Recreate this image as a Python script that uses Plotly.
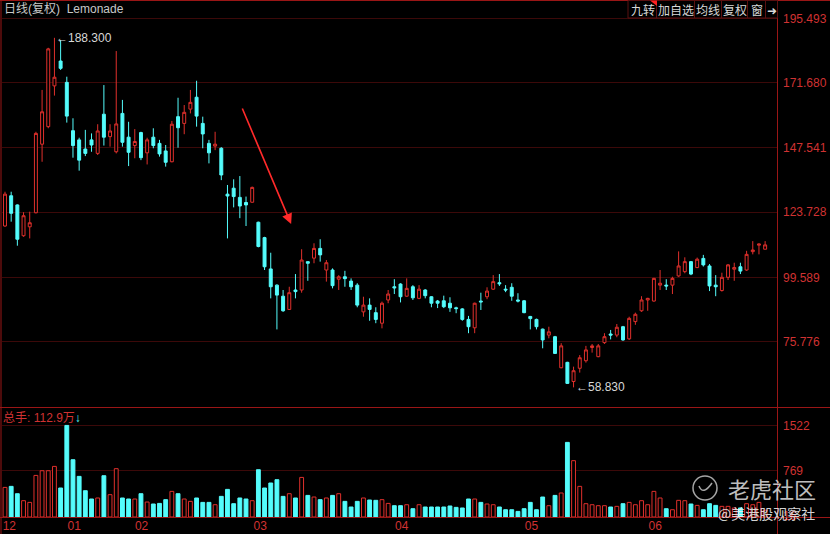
import plotly.graph_objects as go

# ---------------- data ----------------
opens = [118.6,129.8,126.4,115.0,118.3,123.5,148.9,155.4,170.5,179.7,171.8,153.9,150.5,147.1,150.5,145.5,160.0,151.7,146.1,160.3,
         151.5,148.4,153.2,145.7,151.5,149.2,146.4,142.4,159.1,156.6,161.9,166.3,156.6,149.2,148.2,147.4,130.4,132.6,129.2,127.3,
         127.4,120.0,114.3,102.7,96.7,92.6,87.7,94.9,94.9,105.4,106.7,110.3,102.3,102.3,98.9,99.8,98.2,96.7,86.8,89.3,
         86.5,82.6,91.2,96.1,97.1,92.6,96.1,91.8,94.9,92.4,90.8,90.9,90.0,88.3,87.9,84.0,80.9,90.8,92.4,95.2,
         97.6,95.2,95.9,91.2,90.9,85.1,84.0,80.4,78.2,77.6,66.1,68.1,61.0,65.9,68.7,73.6,70.2,75.4,78.6,78.2,
         81.3,76.8,83.2,87.2,91.2,90.8,96.7,96.7,96.7,100.1,101.7,105.4,103.2,106.6,103.8,96.7,94.7,99.6,102.6,103.5,
         102.3,109.1,111.5,110.0]
highs = [131.3,131.3,126.6,123.7,123.9,153.5,169.0,184.6,188.3,187.5,173.9,158.5,151.3,154.2,152.9,156.3,170.8,156.3,183.4,165.3,
         157.2,154.5,153.5,151.3,154.8,150.5,148.6,157.5,166.1,163.4,169.0,172.4,159.1,150.5,153.5,147.8,133.8,135.9,137.1,129.5,
         133.2,120.2,114.6,108.7,97.0,94.9,96.1,100.8,110.0,105.4,112.2,113.7,106.0,102.9,100.4,102.0,99.2,97.4,92.4,91.8,
         88.5,90.6,94.9,98.9,97.4,99.2,96.7,96.7,95.2,92.6,91.2,92.8,92.2,88.7,88.2,85.3,90.2,93.9,95.9,100.4,
         100.8,96.7,97.4,93.7,91.2,85.3,84.3,80.6,81.3,77.9,75.2,68.3,66.5,70.8,74.2,74.9,74.9,78.9,80.1,82.3,
         81.6,85.0,86.5,92.6,92.0,99.4,102.3,98.9,99.8,109.2,107.0,105.6,106.9,107.9,104.5,100.4,101.3,104.5,105.0,105.0,
         109.4,113.0,112.1,113.0]
lows = [118.3,120.2,111.3,114.6,114.0,123.3,142.4,154.8,166.9,176.4,156.9,143.9,139.1,144.5,146.1,144.9,148.4,148.0,145.5,148.0,
        140.8,143.7,143.0,141.4,147.4,144.3,140.6,142.2,147.6,152.6,160.3,155.4,147.4,141.8,146.7,135.6,114.0,125.5,121.5,118.6,
        127.3,110.7,102.3,91.8,80.3,86.8,87.5,91.8,93.9,98.3,104.8,105.4,98.0,95.5,94.9,96.1,94.9,88.5,85.0,83.5,
        82.6,80.7,90.0,93.4,90.3,92.4,91.2,91.5,91.8,88.5,88.2,88.2,86.8,86.3,83.5,78.9,78.9,87.5,91.5,94.9,
        96.4,94.1,90.9,90.3,86.3,80.3,80.3,73.3,77.0,71.2,65.9,60.1,58.83,64.3,68.0,71.7,70.0,74.9,76.6,77.4,
        76.1,76.4,82.0,86.8,87.2,90.6,94.9,94.9,93.4,99.8,101.1,100.4,103.0,103.6,94.5,92.6,94.3,98.6,98.3,100.8,
        102.0,108.1,108.1,110.0]
closes = [130.4,123.3,113.7,122.4,119.8,152.9,160.9,184.2,173.7,177.0,159.3,148.4,143.0,145.5,148.6,153.8,151.5,153.8,156.4,149.6,
          145.9,149.9,143.9,150.5,148.4,145.3,142.2,156.3,155.0,160.7,164.4,159.3,152.7,145.7,148.9,137.5,129.7,129.5,126.0,126.4,
          132.9,111.0,103.5,96.1,93.0,87.2,93.9,94.3,106.0,104.8,110.3,107.9,105.0,96.5,99.8,99.1,96.1,89.3,89.3,87.7,
          84.0,90.0,93.4,95.7,92.4,95.5,92.0,95.2,92.8,90.0,90.0,88.7,88.3,88.0,84.0,81.3,90.0,90.5,94.5,98.0,
          97.2,94.9,92.6,90.8,86.5,84.3,81.3,76.4,79.4,71.4,74.2,60.3,65.0,69.8,72.7,74.2,74.2,77.6,78.2,81.1,
          76.4,84.4,85.9,91.2,91.8,99.2,97.4,96.4,99.2,103.8,105.4,100.8,106.3,104.2,96.4,96.1,99.6,104.2,103.2,101.9,
          108.1,109.7,111.9,111.6]
# volume, in 万 shares
volumes = [492,509,387,271,243,691,769,769,841,482,1522,952,675,437,299,316,686,371,803,316,
           299,299,387,249,216,226,288,426,387,299,260,316,243,243,204,343,459,221,316,299,
           271,786,482,565,620,343,387,316,658,359,332,288,316,359,387,260,166,260,316,282,
           277,288,226,188,188,204,138,204,166,166,166,166,183,160,150,299,299,243,216,204,
           166,121,121,93,138,243,121,332,188,359,399,1240,936,509,221,204,188,188,166,177,
           221,243,204,271,204,426,316,138,121,277,271,216,193,121,221,193,177,177,150,150,
           221,204,243,113]

month_labels = ["12", "01", "02", "03", "04", "05", "06"]
month_pos = [1.7, 12.2, 23.1, 42.3, 65.2, 86.2, 106.2]

price_ticks = [195.493, 171.680, 147.541, 123.728, 99.589, 75.776]
vol_ticks = [1522, 769, 16]

title_text = "日线(复权)  Lemonade"
vol_title = "总手: 112.9万"
buttons = ["九转", "加自选", "均线", "复权", "窗", "➜"]

# ---------------- styling ----------------
RED = "#e0302c"
CYAN = "#54fcfc"
GRID = "#3c0909"
FRAME = "#9a1616"
LABEL = "#d03232"
FONT = "Liberation Sans, Arial, Noto Sans CJK SC"

W, H = 830, 534
ML, MR, MT, MB = 2, 53, 0, 17
PW, PH = W - ML - MR, H - MT - MB


def pxx(x):
    return (x - ML) / PW


def pxy(y):
    return (H - MB - y) / PH


idx = list(range(1, len(opens) + 1))
up = [c >= o for o, c in zip(opens, closes)]

fig = go.Figure()
fig.add_trace(go.Candlestick(
    x=idx, open=opens, high=highs, low=lows, close=closes,
    increasing=dict(line=dict(color=RED, width=1), fillcolor="#000000"),
    decreasing=dict(line=dict(color=CYAN, width=1), fillcolor=CYAN),
    whiskerwidth=0, xaxis="x", yaxis="y", hoverinfo="skip"))

fig.add_trace(go.Bar(
    x=idx, y=volumes, width=0.62,
    marker=dict(color=["#000000" if u else CYAN for u in up],
                line=dict(color=[RED if u else CYAN for u in up], width=1)),
    xaxis="x2", yaxis="y2", hoverinfo="skip"))

xr = [1 - 3 / 6.18, 1 - 3 / 6.18 + PW / 6.18]

fig.update_layout(
    width=W, height=H, margin=dict(l=ML, r=MR, t=MT, b=MB),
    paper_bgcolor="#000000", plot_bgcolor="#000000", showlegend=False,
    boxgap=0.32,
    font=dict(family=FONT, color=LABEL, size=12),
    xaxis=dict(domain=[0, 1], range=xr, anchor="y", showticklabels=False, showgrid=False,
               zeroline=False, showline=False, rangeslider=dict(visible=False), fixedrange=True),
    xaxis2=dict(domain=[0, 1], range=xr, anchor="y2", showgrid=False, zeroline=False,
                showline=False, tickvals=month_pos, ticktext=month_labels, ticks="",
                tickfont=dict(color=LABEL, size=12, family=FONT), ticklabelstandoff=0),
    yaxis=dict(domain=[pxy(407), 1], range=[51.56, 202.31], side="right",
               tickvals=price_ticks, ticktext=[f"{v:.3f}" for v in price_ticks],
               showgrid=True, gridcolor=GRID, gridwidth=1, zeroline=False, showline=False,
               ticks="", ticklabelstandoff=5, tickfont=dict(color=LABEL, size=12, family=FONT)),
    yaxis2=dict(domain=[0, pxy(410)], range=[0, (H - MB - 410) * 16.62], side="right",
                tickvals=vol_ticks, ticktext=[str(v) for v in vol_ticks],
                showgrid=True, gridcolor=GRID, gridwidth=1, zeroline=False, showline=False,
                ticks="", ticklabelstandoff=5, tickfont=dict(color=LABEL, size=12, family=FONT)),
)

shapes = []
# frame lines
for yy in [0.5, 407.5, 517.5]:
    shapes.append(dict(type="line", xref="paper", yref="paper", x0=pxx(0), x1=pxx(W),
                       y0=pxy(yy), y1=pxy(yy), line=dict(color=FRAME, width=1)))
for xx in [1, 777.5]:
    shapes.append(dict(type="line", xref="paper", yref="paper", x0=pxx(xx), x1=pxx(xx),
                       y0=pxy(0), y1=pxy(H), line=dict(color=FRAME, width=1)))
# button bar
shapes.append(dict(type="rect", xref="paper", yref="paper", x0=pxx(628), x1=pxx(777.5),
                   y0=pxy(0.5), y1=pxy(18), line=dict(color="#5a1010", width=1)))
for xx in [656.5, 694.5, 721.5, 747.5, 765.5]:
    shapes.append(dict(type="line", xref="paper", yref="paper", x0=pxx(xx), x1=pxx(xx),
                       y0=pxy(0.5), y1=pxy(18), line=dict(color="#5a1010", width=1)))
shapes.append(dict(type="path", xref="paper", yref="paper",
                   path=f"M {pxx(650)} {pxy(0.5)} L {pxx(657)} {pxy(0.5)} L {pxx(657)} {pxy(6)} Z",
                   fillcolor="#ff2020", line=dict(width=0)))
# watermark logo circle
shapes.append(dict(type="circle", xref="paper", yref="paper", x0=pxx(693), x1=pxx(717),
                   y0=pxy(476), y1=pxy(500), line=dict(color="rgba(220,220,220,0.75)", width=1.5)))
shapes.append(dict(type="path", xref="paper", yref="paper",
                   path=f"M {pxx(699)} {pxy(486)} Q {pxx(703)} {pxy(496)} {pxx(712)} {pxy(483)}",
                   line=dict(color="rgba(220,220,220,0.75)", width=1.5)))
fig.update_layout(shapes=shapes)

ann = []
ann.append(dict(xref="paper", yref="paper", x=pxx(2), y=pxy(9), xanchor="left", yanchor="middle",
                text=title_text, showarrow=False, font=dict(color="#c8c8c8", size=12, family=FONT)))
ann.append(dict(xref="paper", yref="paper", x=pxx(1), y=pxy(418), xanchor="left", yanchor="middle",
                text=vol_title + f"<span style='color:{CYAN}'>↓</span>", showarrow=False,
                font=dict(color=LABEL, size=12, family=FONT)))
btn_cx = [643, 675.5, 708, 734.5, 756.5, 771.5]
for t, cx in zip(buttons, btn_cx):
    ann.append(dict(xref="paper", yref="paper", x=pxx(cx), y=pxy(9.5), xanchor="center", yanchor="middle",
                    text=t, showarrow=False, font=dict(color="#d8d8d8", size=12, family="Noto Sans CJK SC, DejaVu Sans")))
# high / low markers
hi_i = max(range(len(highs)), key=lambda k: highs[k])
lo_i = min(range(len(lows)), key=lambda k: lows[k])
ann.append(dict(xref="x", yref="y", x=idx[hi_i], y=highs[hi_i], xanchor="left", yanchor="middle",
                text=f"←{highs[hi_i]:.3f}", showarrow=False, font=dict(color="#d8d8d8", size=12, family=FONT)))
ann.append(dict(xref="x", yref="y", x=idx[lo_i], y=lows[lo_i], xanchor="left", yanchor="middle",
                text=f"←{lows[lo_i]:.3f}", showarrow=False, font=dict(color="#d8d8d8", size=12, family=FONT)))
# hand-drawn red arrow
ann.append(dict(xref="x", yref="y", x=47.3, y=119.3, axref="x", ayref="y", ax=39.3, ay=162.7,
                showarrow=True, arrowhead=2, arrowsize=1.3, arrowwidth=1.6, arrowcolor="#ff2a2a",
                text="", standoff=0))
# watermark
ann.append(dict(xref="paper", yref="paper", x=pxx(726), y=pxy(488), xanchor="left", yanchor="middle",
                text="老虎社区", showarrow=False,
                font=dict(color="rgba(225,225,225,0.85)", size=22, family="Noto Sans CJK SC")))
ann.append(dict(xref="paper", yref="paper", x=pxx(716), y=pxy(513), xanchor="left", yanchor="middle",
                text="@美港股观察社", showarrow=False,
                font=dict(color="rgba(240,240,240,0.9)", size=14, family="Noto Sans CJK SC")))
fig.update_layout(annotations=ann)

fig.write_html("out.html", config={"displayModeBar": False},
               post_script="document.body.style.margin='0px';document.body.style.overflow='hidden';")
